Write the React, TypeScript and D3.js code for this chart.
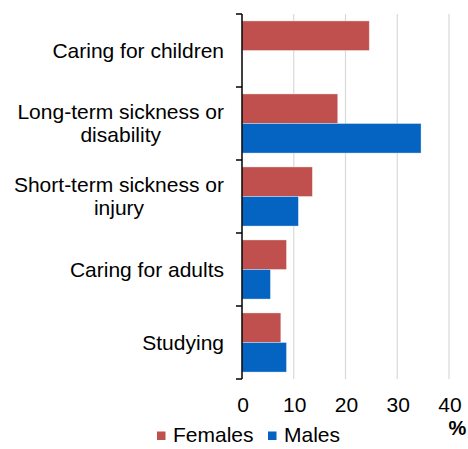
import React from "react";
import * as d3 from "d3";

const categories: string[][] = [
  ["Caring for children"],
  ["Long-term sickness or", "disability"],
  ["Short-term sickness or", "injury"],
  ["Caring for adults"],
  ["Studying"],
];
const females = [24.6, 18.5, 13.6, 8.6, 7.5];
const males = [0, 34.6, 10.9, 5.5, 8.6];
const xTicks = [0, 10, 20, 30, 40];
const seriesNames = ["Females", "Males"];
const seriesColors = ["#C0504D", "#0563C1"];

const W = 468;
const H = 449;
const left = 242;
const right = 449;
const top = 14;
const bottom = 379;
const FONT = "'Liberation Sans', Arial, sans-serif";
const FS = 21;

// Measure text width so multi-line labels can be centred within a right-aligned block
function textWidth(s: string): number {
  const c = document.createElement("canvas").getContext("2d");
  if (!c) return s.length * FS * 0.5;
  c.font = `${FS}px ${FONT}`;
  return c.measureText(s).width;
}

export default function App() {
  const x = d3.scaleLinear().domain([0, 40]).range([left, right]);
  const idx = categories.map((_, i) => String(i));
  const y = d3.scaleBand().domain(idx).range([top, bottom]).paddingInner(0.19).paddingOuter(0.095);
  const inner = d3.scaleBand().domain(["0", "1"]).range([0, y.bandwidth()]);
  const step = y.step();
  const boundaries = d3.range(categories.length + 1).map((i) => top + i * step);
  const series = [females, males];
  const labelRight = 224;
  const lh = 23.3;

  return (
    <svg width={W} height={H} style={{ position: "absolute", left: 0, top: 0, fontFamily: FONT }}>
      {xTicks.filter((t) => t > 0).map((t) => (
        <line key={"g" + t} x1={x(t)} x2={x(t)} y1={top} y2={bottom} stroke="#D9D9D9" strokeWidth={1.2} />
      ))}
      {series.map((vals, s) =>
        vals.map((v, i) => (
          <rect
            key={`b${s}-${i}`}
            x={x(0)}
            y={(y(String(i)) as number) + (inner(String(s)) as number)}
            width={x(v) - x(0)}
            height={inner.bandwidth()}
            fill={seriesColors[s]}
            stroke="rgba(255,255,255,0.45)"
            strokeWidth={0.8}
          />
        ))
      )}
      <line x1={left} x2={left} y1={top} y2={bottom} stroke="#000" strokeWidth={1.5} />
      {boundaries.map((b, i) => (
        <line key={"t" + i} x1={left - 6} x2={left} y1={b} y2={b} stroke="#000" strokeWidth={1.5} />
      ))}
      {categories.map((lines, i) => {
        const cy = (y(String(i)) as number) + y.bandwidth() / 2;
        const maxW = Math.max(...lines.map(textWidth));
        const cx = labelRight - maxW / 2;
        return (
          <g key={"c" + i}>
            {lines.map((l, k) => (
              <text
                key={k}
                x={cx}
                y={cy + 7 + (k - (lines.length - 1) / 2) * lh}
                textAnchor="middle"
                fontSize={FS}
                fill="#000"
              >
                {l}
              </text>
            ))}
          </g>
        );
      })}
      {xTicks.map((t) => (
        <text key={"x" + t} x={x(t) + 1} y={411.5} textAnchor="middle" fontSize={FS} fill="#000">
          {t}
        </text>
      ))}
      <text x={457.5} y={435} textAnchor="middle" fontSize={20} fontWeight="bold" fill="#000">
        %
      </text>
      {seriesNames.map((n, s) => {
        const lx = s === 0 ? 157 : 268;
        return (
          <g key={"l" + s}>
            <rect x={lx} y={431.5} width={8.5} height={8.5} fill={seriesColors[s]} />
            <text x={lx + 16} y={441.5} fontSize={FS} fill="#000">
              {n}
            </text>
          </g>
        );
      })}
    </svg>
  );
}
